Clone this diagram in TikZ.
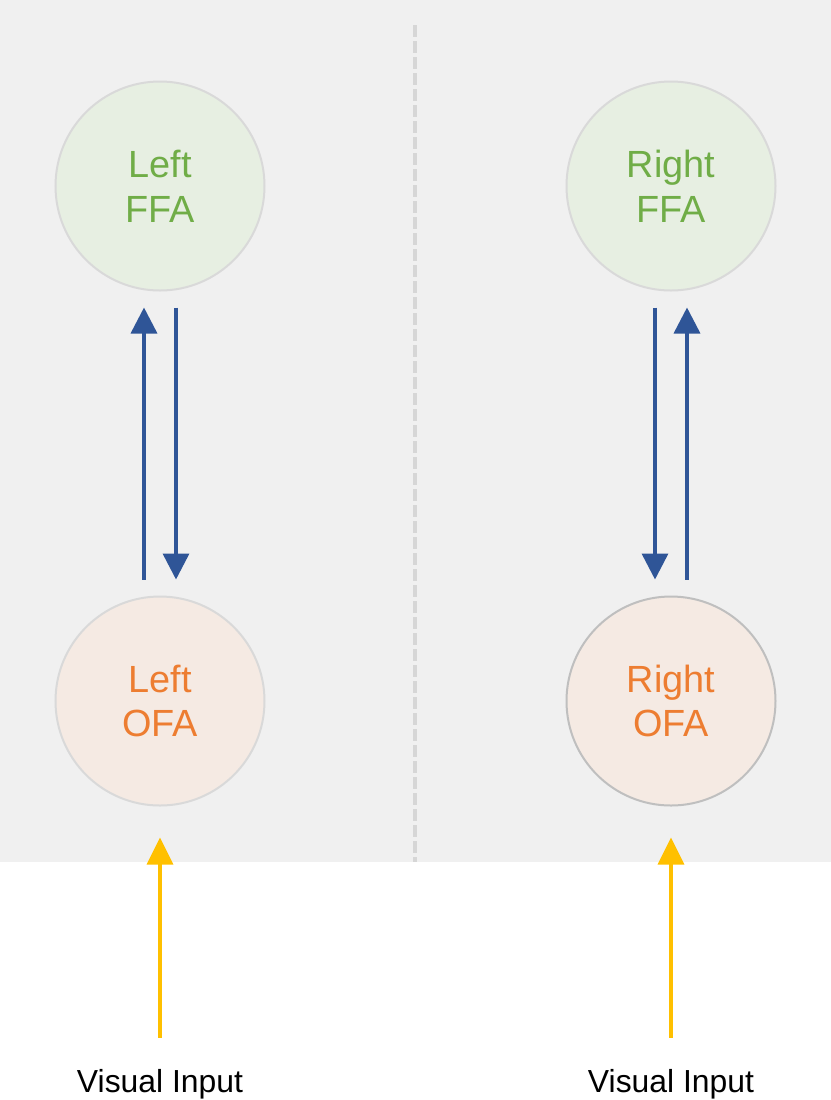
\documentclass[tikz,border=0pt]{standalone}
\usepackage{fontspec}
\setmainfont{Liberation Sans}
\usepackage{xcolor}
\usetikzlibrary{arrows.meta}
\definecolor{panelgray}{HTML}{F0F0F0}
\definecolor{dividergray}{HTML}{D6D6D6}
\definecolor{ringgray}{HTML}{D9D9D9}
\definecolor{ringdark}{HTML}{BFBFBF}
\definecolor{ffafill}{HTML}{E7EFE2}
\definecolor{ffatext}{HTML}{70AD47}
\definecolor{ofafill}{HTML}{F5EAE3}
\definecolor{ofatext}{HTML}{ED7D31}
\definecolor{linkblue}{HTML}{2F5597}
\definecolor{inputyellow}{HTML}{FFC000}
\tikzstyle{area} = [circle, draw=ringgray, line width=2bp, minimum size=209bp, inner sep=0pt, align=center, font=\fontsize{38}{45}\selectfont]
\tikzstyle{ffa} = [area, fill=ffafill, text=ffatext]
\tikzstyle{ofa} = [area, fill=ofafill, text=ofatext]
\tikzstyle{input} = [inner sep=0pt, font=\fontsize{32}{38}\selectfont]
\tikzstyle{link} = [draw=linkblue, line width=3.5bp, -{Triangle[width=26bp,length=26bp]}, shorten >=16bp, shorten <=16bp]
\tikzstyle{feed} = [draw=inputyellow, line width=3.5bp, -{Triangle[width=26bp,length=27bp]}, shorten >=31bp, shorten <=31bp]

\begin{document}
\begin{tikzpicture}[x=1bp,y=-1bp,node distance=515bp]
  \useasboundingbox (0,0) rectangle (831,1100);
  \fill[panelgray] (0,0) rectangle (831,862);
  \draw[dividergray, line width=4bp, dash pattern=on 12bp off 4bp] (415,25) -- (415,862);

  \node[ffa] (LFFA) at (160,186) {Left\\FFA};
  \node[ofa] (LOFA) [below of=LFFA] {Left\\OFA};
  \node[ffa] (RFFA) at (671,186) {Right\\FFA};
  \node[ofa, draw=ringdark] (ROFA) [below of=RFFA] {Right\\OFA};
  \node[input] (LIN) [below of=LOFA, node distance=383bp] {Visual Input};
  \node[input] (RIN) [below of=ROFA, node distance=383bp] {Visual Input};

  \path[link] ([xshift=-16bp]LOFA.north) -- ([xshift=-16bp]LFFA.south);
  \path[link] ([xshift=16bp]LFFA.south) -- ([xshift=16bp]LOFA.north);
  \path[link] ([xshift=-16bp]RFFA.south) -- ([xshift=-16bp]ROFA.north);
  \path[link] ([xshift=16bp]ROFA.north) -- ([xshift=16bp]RFFA.south);
  \path[feed] (LIN) -- (LOFA);
  \path[feed] (RIN) -- (ROFA);
\end{tikzpicture}
\end{document}
